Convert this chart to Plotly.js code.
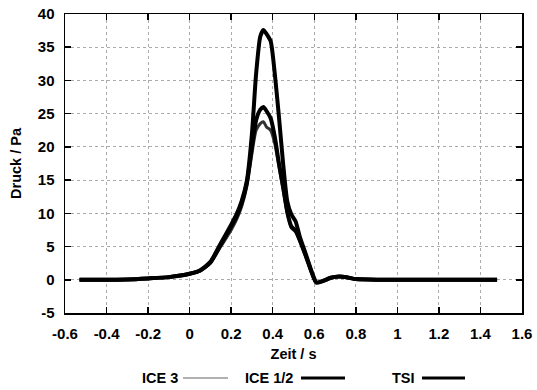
<!DOCTYPE html>
<html>
<head>
<meta charset="utf-8">
<script src="https://cdn.plot.ly/plotly-3.0.1.min.js"></script>
<style>html,body{margin:0;padding:0;background:#fff;}#chart{width:537px;height:390px;}</style>
</head>
<body>
<div id="chart"></div>
<script>
// Zeit / s
const zeit = [-0.53, -0.4, -0.3, -0.2, -0.1, 0, 0.05, 0.1, 0.15, 0.2, 0.225, 0.25, 0.275, 0.3, 0.32, 0.34, 0.355, 0.37, 0.39, 0.41, 0.43, 0.45, 0.47, 0.49, 0.51, 0.53, 0.56, 0.59, 0.61, 0.64, 0.68, 0.72, 0.76, 0.8, 0.9, 1.0, 1.2, 1.48];
// Druck / Pa
const tsi    = [0, 0, 0.05, 0.2, 0.4, 0.9, 1.4, 2.7, 5.5, 8.3, 9.8, 11.8, 14.8, 22.0, 31.0, 36.6, 37.6, 37.0, 35.9, 31.0, 24.5, 17.5, 11.8, 9.8, 8.8, 6.5, 3.8, 1.0, -0.4, -0.2, 0.3, 0.5, 0.35, 0.1, 0, 0, 0, 0];
const ice12  = [0, 0, 0.05, 0.2, 0.4, 0.9, 1.4, 2.6, 5.3, 8.0, 9.5, 11.5, 14.5, 20.0, 24.0, 25.6, 26.0, 25.4, 24.3, 21.5, 17.5, 14.0, 10.2, 8.0, 7.4, 6.0, 3.5, 0.9, -0.4, -0.2, 0.3, 0.5, 0.35, 0.1, 0, 0, 0, 0];
const ice3   = [0, 0, 0.05, 0.2, 0.4, 0.9, 1.3, 2.5, 5.0, 7.5, 9.0, 11.0, 14.0, 19.0, 22.5, 23.5, 23.8, 23.0, 22.5, 20.5, 17.0, 13.5, 10.0, 7.8, 7.2, 5.8, 3.4, 0.8, -0.4, -0.2, 0.3, 0.5, 0.35, 0.1, 0, 0, 0, 0];
const xTicks = [-0.6, -0.4, -0.2, 0, 0.2, 0.4, 0.6, 0.8, 1, 1.2, 1.4, 1.6];
const yTicks = [-5, 0, 5, 10, 15, 20, 25, 30, 35, 40];
const seriesNames = ['ICE 3', 'ICE 1/2', 'TSI'];

const tickFont = {family: 'Liberation Sans, Arial, sans-serif', size: 15, color: '#000', weight: 'bold'};
const font = {family: 'Liberation Sans, Arial, sans-serif', size: 14.5, color: '#000', weight: 'bold'};

const traces = [
  {x: zeit, y: ice3, name: seriesNames[0], mode: 'lines', line: {color: '#333', width: 3, shape: 'spline', smoothing: 0.6}},
  {x: zeit, y: ice12, name: seriesNames[1], mode: 'lines', line: {color: '#000', width: 4, shape: 'spline', smoothing: 0.6}},
  {x: zeit, y: tsi, name: seriesNames[2], mode: 'lines', line: {color: '#000', width: 4, shape: 'spline', smoothing: 0.6}}
];

const axisCommon = {
  showline: true, linecolor: '#000', linewidth: 1.5, mirror: 'ticks',
  ticks: 'inside', ticklen: 6, tickwidth: 1.5, tickcolor: '#000',
  showgrid: true, gridcolor: '#ababab', gridwidth: 1, griddash: '3px,3px',
  zeroline: false, tickfont: tickFont, ticklabelstandoff: 6
};

// legend drawn as text followed by a line sample, as in the reference
const legendText = [{x: 180, c: '#b0b0b0', l0: 183, l1: 228, w: 2}, {x: 295, c: '#000', l0: 301, l1: 345, w: 3}, {x: 417, c: '#000', l0: 422, l1: 465, w: 3}];
const px2paperX = p => (p - 65) / 457;
const legY = -0.217;
const annotations = seriesNames.map((n, i) => ({
  text: n, xref: 'paper', yref: 'paper', x: px2paperX(legendText[i].x), y: legY,
  xanchor: 'right', yanchor: 'middle', showarrow: false, font: font
}));
const shapes = seriesNames.map((n, i) => ({
  type: 'line', xref: 'paper', yref: 'paper',
  x0: px2paperX(legendText[i].l0), x1: px2paperX(legendText[i].l1), y0: legY, y1: legY,
  line: {color: legendText[i].c, width: legendText[i].w}
}));

const layout = {
  width: 537, height: 390,
  margin: {l: 65, r: 15, t: 14, b: 77},
  paper_bgcolor: '#fff', plot_bgcolor: '#fff',
  showlegend: false,
  font: font,
  xaxis: Object.assign({}, axisCommon, {
    range: [-0.6, 1.6], tickvals: xTicks, ticktext: xTicks.map(String),
    title: {text: 'Zeit / s', font: font, standoff: 8}
  }),
  yaxis: Object.assign({}, axisCommon, {
    range: [-5, 40], tickvals: yTicks, ticktext: yTicks.map(String),
    title: {text: 'Druck / Pa', font: font, standoff: 12}
  }),
  annotations: annotations,
  shapes: shapes
};

Plotly.newPlot('chart', traces, layout, {staticPlot: true, displayModeBar: false});
</script>
</body>
</html>
